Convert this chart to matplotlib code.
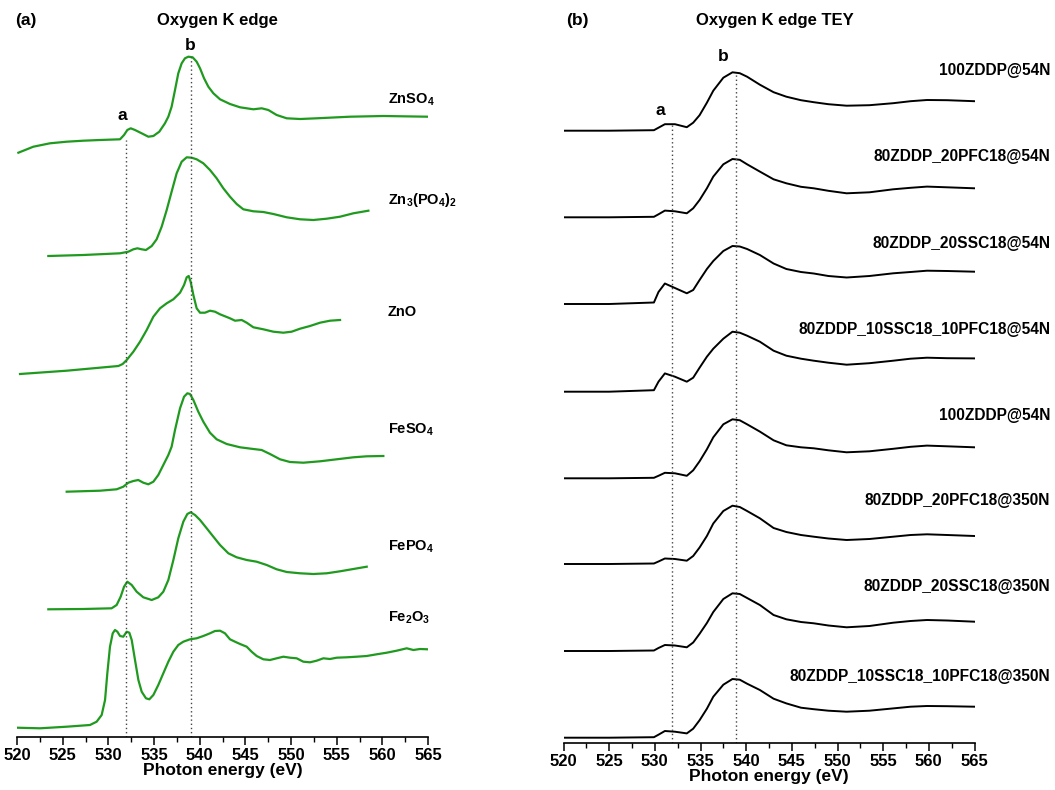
import matplotlib
matplotlib.use('Agg')
from matplotlib import pyplot as plt
from matplotlib.ticker import MultipleLocator

plt.rcParams['font.family'] = ['Liberation Sans', 'DejaVu Sans']
plt.rcParams['font.weight'] = 'bold'
plt.rcParams['mathtext.fontset'] = 'custom'
plt.rcParams['mathtext.rm'] = 'Liberation Sans:bold'
plt.rcParams['mathtext.bf'] = 'Liberation Sans:bold'

# ---- panel (a): reference compounds (energy in eV, intensity in arbitrary units, already stacked)
znso4_e = [520.15, 521.79, 523.61, 525.44, 527.26, 529.09, 531.28, 531.72, 532.08, 532.45, 532.92, 533.65,
           534.38, 534.93, 535.58, 536.2, 536.57, 536.93, 537.3, 537.66, 538.03, 538.39, 538.76, 539.23,
           539.67, 540.04, 540.48, 540.95, 541.5, 542.23, 543.32, 544.42, 545.88, 546.79, 547.52, 548.43,
           549.53, 551.0, 552.81, 556.46, 560.11, 564.96]
znso4_i = [584.3, 590.3, 593.7, 595.3, 596.3, 597, 597.7, 602, 607, 608.7, 607, 603.7,
           600.3, 601, 605.3, 613.7, 620.3, 630.3, 647, 663.7, 673.7, 678.7, 680.3, 679.7,
           675.3, 668.7, 658.7, 650.3, 643.7, 637.7, 633, 629.7, 627.7, 628.7, 627, 622,
           618.7, 618, 618.7, 620.3, 621, 620.3]

zn3po4_e = [523.43, 527.26, 531.28, 532.19, 532.74, 533.18, 533.65, 534.12, 534.75, 535.29, 535.84, 536.39,
            536.93, 537.48, 538.03, 538.58, 539.12, 539.67, 540.4, 541.13, 541.86, 542.59, 543.32, 544.05,
            544.78, 545.88, 546.97, 548.07, 549.53, 551.0, 552.45, 553.91, 555.37, 556.83, 558.47]
zn3po4_i = [481, 482, 483.7, 485.3, 487.7, 488.7, 487.7, 487, 491, 497.7, 510.3, 527,
            545.3, 563.7, 575.3, 579.7, 579.3, 577.7, 573.7, 567, 558.7, 548.7, 540.3, 533,
            527.7, 525.7, 525, 523, 519.7, 517.7, 517, 518.3, 520.3, 523.7, 526.3]

zno_e = [520.33, 525.44, 531.1, 531.57, 532.01, 532.74, 533.47, 534.2, 534.93, 535.66, 536.39, 537.12,
         537.85, 538.29, 538.58, 538.8, 539.01, 539.31, 539.67, 540.04, 540.58, 541.13, 541.68, 542.23,
         543.32, 543.87, 544.6, 545.15, 545.88, 546.97, 548.07, 549.16, 550.07, 550.99, 552.08, 553.18,
         554.27, 555.37]
zno_i = [363, 366.3, 371, 373, 377, 385.3, 395.3, 407, 420.3, 428.7, 433.7, 437.7,
         444.3, 452, 459.7, 461, 455.3, 442, 428.7, 424.3, 424.3, 426.3, 425.3, 422.7,
         418.7, 416.3, 417, 414.3, 409.7, 407.7, 405.3, 404.3, 405.3, 408.3, 411, 414.3,
         416.3, 417]

feso4_e = [525.44, 529.09, 530.91, 531.64, 532.19, 532.74, 533.28, 533.83, 534.38, 534.93, 535.47, 536.02,
           536.57, 536.93, 537.3, 537.85, 538.29, 538.65, 538.94, 539.31, 539.85, 540.4, 541.13, 541.86,
           542.96, 544.42, 545.88, 546.79, 547.7, 548.8, 549.89, 551.35, 553.18, 555.0, 556.83, 558.29,
           560.11]
feso4_i = [245.3, 246.3, 247.7, 250.3, 254.3, 256, 257, 254.3, 252.7, 255.3, 262, 272,
           282, 290.3, 307, 328.7, 340.3, 343.7, 343, 337, 325.3, 315.3, 304.3, 297.7,
           293, 289.7, 288, 287, 283, 277.7, 275, 274.3, 275.7, 277.7, 279.7, 280.7,
           281]

fepo4_e = [523.43, 527.26, 530.36, 530.91, 531.35, 531.72, 532.08, 532.56, 533.1, 533.83, 534.75, 535.47,
           536.02, 536.57, 537.12, 537.66, 538.21, 538.65, 539.01, 539.49, 540.04, 540.77, 541.5, 542.23,
           543.14, 544.05, 545.15, 546.24, 547.34, 548.43, 549.53, 551.0, 552.45, 553.91, 555.37, 556.83,
           558.29]
fepo4_i = [127.7, 128, 128.7, 132, 140.3, 150.3, 155.3, 152, 145.3, 139.7, 137, 139.7,
           145.3, 157, 177, 198.7, 215.3, 223, 224.7, 222, 217, 208.7, 200.3, 192,
           183.7, 179.7, 177, 175.3, 172, 167.7, 165, 163.7, 163, 163.7, 165.7, 168,
           170.3]

fe2o3_e = [519.96, 522.52, 525.44, 527.99, 528.72, 529.27, 529.64, 529.89, 530.18, 530.48, 530.73, 530.99,
           531.28, 531.64, 532.01, 532.3, 532.56, 532.92, 533.29, 533.65, 534.12, 534.49, 534.93, 535.47,
           536.02, 536.57, 537.12, 537.66, 538.21, 538.94, 539.67, 540.4, 541.13, 541.68, 542.23, 542.77,
           543.32, 543.87, 544.42, 545.15, 545.69, 546.24, 546.97, 547.7, 548.43, 549.16, 549.89, 550.62,
           551.35, 552.08, 552.81, 553.54, 554.27, 555.0, 556.1, 557.19, 558.29, 559.38, 560.48, 561.57,
           562.67, 563.4, 564.13, 564.96]
fe2o3_i = [9.3, 8.7, 10.3, 12, 15.3, 22, 37, 63.7, 90.3, 103.7, 107, 105.3,
           101, 100.3, 105.3, 104.3, 97, 77, 57, 45.3, 38.7, 37.7, 42, 52,
           63.7, 75.3, 85.3, 92, 95.3, 97.7, 98.7, 101, 103.7, 106, 106.3, 103.7,
           97.7, 95.3, 93, 90.3, 85.3, 81, 77.7, 77, 78.7, 80.3, 79.3, 78.7,
           75.3, 74.7, 76.3, 78.7, 78, 79.3, 79.7, 80.3, 81, 82.7, 84.3, 86.3,
           88.7, 87, 88, 87.7]

ref_names = ['ZnSO$_\\mathbf{4}$', 'Zn$_\\mathbf{3}$(PO$_\\mathbf{4}$)$_\\mathbf{2}$', 'ZnO',
             'FeSO$_\\mathbf{4}$', 'FePO$_\\mathbf{4}$', 'Fe$_\\mathbf{2}$O$_\\mathbf{3}$']
ref_label_y = [637, 537, 425, 307, 190, 119]

# ---- panel (b): tribofilms TEY, common energy grid, intensity relative to each baseline
tey_e = [520, 525, 529.9, 530.4, 531.1, 532.2, 533.5, 534.2, 534.9, 535.7, 536.4, 537.5, 538.5, 539.3,
         540.1, 541.5, 543.0, 544.4, 546.0, 547.4, 549.0, 551.0, 553.5, 556.1, 558.0, 559.8, 562.0, 565.0]
tey_1 = [0, 0, 0.5, 3, 6.5, 6.5, 3.5, 8, 15.5, 28, 40, 53, 58.4, 57.5,
         54, 46, 38.5, 34, 30.5, 28.5, 26.5, 25, 25.5, 27.5, 29.5, 30.7, 30.5, 29.5]
tey_2 = [0, 0, 0.5, 3, 6.7, 6, 4, 9, 17.3, 29, 40.7, 53, 58.3, 57.5,
         53, 45.7, 38, 34, 30.5, 29, 26.5, 24, 25, 28, 29.5, 30.7, 30, 29]
tey_3 = [0, 0, 1.5, 12, 20.5, 16, 10.7, 14, 24, 35, 43, 53, 58, 57.5,
         55, 49, 40.5, 35, 32, 30.5, 28, 26.5, 28, 30.7, 32, 33.3, 33, 32.3]
tey_4 = [0, 0, 1.5, 10, 18.3, 15, 10, 14, 24, 35, 43, 53, 60, 59,
         56, 50, 41, 36, 33, 31, 29, 27, 28.5, 31, 33, 34, 33.5, 33.3]
tey_5 = [0, 0, 0.5, 2.5, 5.5, 5, 2.5, 8, 17, 29, 41, 54, 59, 58,
         54, 46.7, 38, 33, 31, 30, 28, 26, 27, 29.5, 31.5, 32.7, 32, 31]
tey_6 = [0, 0, 0.5, 2.5, 5.5, 5, 3.3, 8, 16.5, 28, 40.5, 53, 58.3, 57,
         53, 45.7, 36, 32, 29, 27.3, 25.5, 24, 25, 27.3, 29, 29.7, 29, 28]
tey_7 = [0, 0, 0.5, 3, 6, 5.5, 3.7, 8.5, 17.2, 28, 39, 52, 57.7, 57,
         53, 46, 36, 31.7, 29, 27.7, 25.5, 23.7, 25, 28.3, 30, 31, 30.5, 29.3]
tey_8 = [0, 0, 0.5, 3, 6.7, 6, 4.3, 9, 17.5, 29, 41, 53, 58.7, 58,
         54, 47.7, 39, 34.3, 30, 28.5, 27, 26, 27, 29.3, 31, 31.7, 31.5, 31]
tey_offsets = [612.6, 526, 439.3, 351.6, 265, 179.3, 92.3, 5.6]
tey_names = ['100ZDDP@54N', '80ZDDP_20PFC18@54N', '80ZDDP_20SSC18@54N', '80ZDDP_10SSC18_10PFC18@54N',
             '100ZDDP@54N', '80ZDDP_20PFC18@350N', '80ZDDP_20SSC18@350N', '80ZDDP_10SSC18_10PFC18@350N']
tey_label_y = [673, 587, 500, 414, 328, 243, 157, 67]

line_a = 531.9
line_b = 538.9

fig = plt.figure(figsize=(10.55, 7.9), dpi=100)
W, H = 1055.0, 790.0
ax1 = fig.add_axes([17 / W, 1 - 737 / H, 411 / W, 707 / H])
ax2 = fig.add_axes([563.5 / W, 1 - 743.3 / H, 411 / W, 713.3 / H])


def style_axis(ax, top):
    ax.set_xlim(520, 565)
    ax.set_ylim(0, top)
    for s in ['left', 'right', 'top']:
        ax.spines[s].set_visible(False)
    ax.spines['bottom'].set_linewidth(1.2)
    ax.set_yticks([])
    ax.xaxis.set_major_locator(MultipleLocator(5))
    ax.xaxis.set_minor_locator(MultipleLocator(2.5))
    ax.tick_params(axis='x', which='major', direction='out', length=6, width=1.1, labelsize=12, pad=2)
    ax.tick_params(axis='x', which='minor', direction='out', length=3.5, width=1.0)
    for lab in ax.get_xticklabels():
        lab.set_fontweight('bold')
    ax.set_xlabel('Photon energy (eV)', fontsize=12.5, fontweight='bold', labelpad=0)


style_axis(ax1, 707)
style_axis(ax2, 713.3)

# panel (a)
green = '#1f9a1f'
ref_curves = [(znso4_e, znso4_i), (zn3po4_e, zn3po4_i), (zno_e, zno_i),
              (feso4_e, feso4_i), (fepo4_e, fepo4_i), (fe2o3_e, fe2o3_i)]
for (e, i), name, ly in zip(ref_curves, ref_names, ref_label_y):
    ax1.plot(e, i, color=green, lw=1.6, solid_joinstyle='round')
    ax1.text(560.6, ly, name, fontsize=10.5, fontweight='bold', ha='left', va='center', clip_on=False)

ax1.plot([line_a, line_a], [0, 597], color='#444444', ls=(0, (1, 2)), lw=1)
ax1.plot([539.0, 539.0], [0, 680], color='#444444', ls=(0, (1, 2)), lw=1)
ax1.text(531.57, 622, 'a', fontsize=12.5, fontweight='bold', ha='center', va='center')
ax1.text(539.0, 692, 'b', fontsize=12.5, fontweight='bold', ha='center', va='center')

# panel (b)
tey_curves = [tey_1, tey_2, tey_3, tey_4, tey_5, tey_6, tey_7, tey_8]
for vals, off, name, ly in zip(tey_curves, tey_offsets, tey_names, tey_label_y):
    ax2.plot(tey_e, [v + off for v in vals], color='black', lw=1.4, solid_joinstyle='round')
    ax2.text(573.3, ly, name, fontsize=11.2, fontweight='bold', ha='right', va='center', clip_on=False)

ax2.plot([line_a, line_a], [0, 618], color='#444444', ls=(0, (1, 2)), lw=1)
ax2.plot([line_b, line_b], [0, 670], color='#444444', ls=(0, (1, 2)), lw=1)
ax2.text(530.57, 633, 'a', fontsize=12.5, fontweight='bold', ha='center', va='center')
ax2.text(537.5, 687, 'b', fontsize=12.5, fontweight='bold', ha='center', va='center')

# panel letters and titles
fig.text(15 / W, 1 - 20 / H, '(a)', fontsize=12.5, fontweight='bold', ha='left', va='center')
fig.text(217 / W, 1 - 20 / H, 'Oxygen K edge', fontsize=12, fontweight='bold', ha='center', va='center')
fig.text(566 / W, 1 - 20 / H, '(b)', fontsize=12.5, fontweight='bold', ha='left', va='center')
fig.text(775 / W, 1 - 20 / H, 'Oxygen K edge TEY', fontsize=12, fontweight='bold', ha='center', va='center')

fig.savefig('out.png', dpi=100)
